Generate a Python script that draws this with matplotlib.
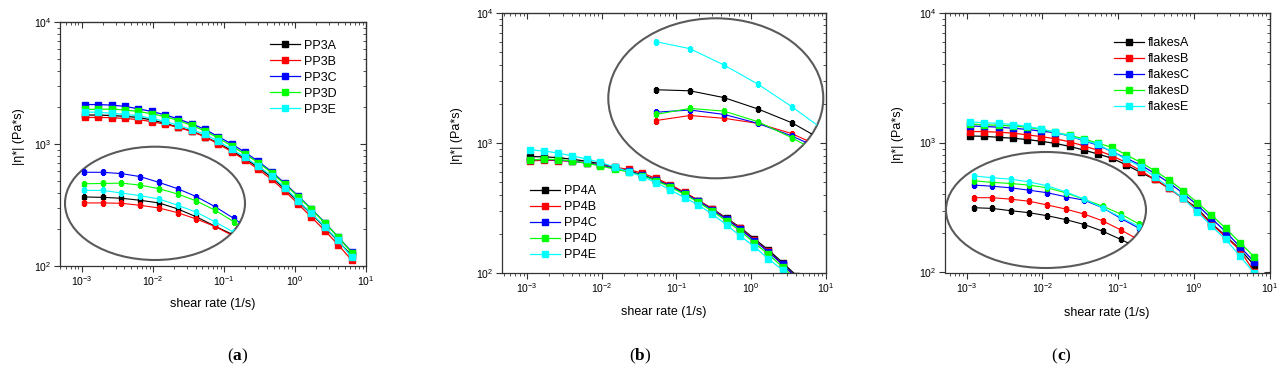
import matplotlib
matplotlib.use('Agg')
import matplotlib.pyplot as plt
from matplotlib.patches import Ellipse
from matplotlib.offsetbox import TextArea, HPacker, AnnotationBbox

plt.rcParams['font.family'] = ['Liberation Sans', 'DejaVu Sans']
plt.rcParams['mathtext.fontset'] = 'custom'
plt.rcParams['mathtext.rm'] = 'Liberation Sans'
plt.rcParams['mathtext.it'] = 'Liberation Sans:italic'
plt.rcParams['mathtext.bf'] = 'Liberation Sans:bold'

# shear rate (1/s), same sweep for every sample
shear_rate = [0.00111, 0.00171, 0.00264, 0.00406, 0.00627, 0.00964, 0.0149, 0.0229,
              0.0352, 0.0542, 0.0835, 0.129, 0.198, 0.305, 0.470, 0.723, 1.11, 1.71,
              2.64, 4.06, 6.27]

# (a) PP3
pp3_labels = ['PP3A', 'PP3B', 'PP3C', 'PP3D', 'PP3E']
pp3a = [1730, 1725, 1712, 1685, 1650, 1574, 1477, 1372, 1279, 1149, 1013, 882, 758, 644, 533, 428, 337, 267, 207, 160, 122]
pp3b = [1650, 1650, 1645, 1619, 1585, 1527, 1452, 1368, 1268, 1148, 1000, 865, 739, 620, 513, 412, 322, 251, 195, 149, 112]
pp3c = [2105, 2105, 2083, 2034, 1943, 1848, 1735, 1602, 1461, 1319, 1148, 1000, 855, 721, 593, 476, 375, 293, 227, 173, 131]
pp3d = [1921, 1926, 1931, 1901, 1848, 1772, 1676, 1558, 1423, 1278, 1120, 963, 828, 703, 582, 467, 370, 291, 225, 173, 129]
pp3e = [1823, 1823, 1785, 1748, 1703, 1620, 1533, 1420, 1309, 1200, 1052, 910, 778, 660, 547, 439, 343, 270, 210, 162, 118]

# (b) PP4
pp4_labels = ['PP4A', 'PP4B', 'PP4C', 'PP4D', 'PP4E']
pp4a = [786, 784, 771, 750, 725, 692, 651, 614, 568, 520, 470, 415, 362, 312, 265, 224, 184, 151, 121, 96, 76]
pp4b = [729, 738, 733, 724, 706, 680, 651, 628, 585, 535, 478, 418, 362, 311, 262, 221, 180, 147, 117, 92, 72]
pp4c = [744, 748, 740, 724, 702, 676, 640, 605, 565, 518, 466, 410, 357, 307, 259, 218, 178, 146, 117, 93, 73]
pp4d = [740, 751, 746, 727, 699, 668, 630, 600, 562, 512, 460, 403, 350, 300, 252, 211, 171, 140, 112, 89, 70]
pp4e = [884, 869, 835, 797, 754, 710, 655, 603, 551, 496, 436, 381, 334, 284, 235, 193, 160, 129, 106, 86, 68]

# (c) flakes
fl_labels = ['flakesA', 'flakesB', 'flakesC', 'flakesD', 'flakesE']
fla = [1124, 1118, 1098, 1081, 1055, 1024, 985, 935, 876, 817, 757, 672, 590, 521, 445, 372, 312, 239, 191, 151, 114]
flb = [1216, 1216, 1202, 1183, 1148, 1112, 1069, 1014, 944, 872, 789, 701, 608, 521, 445, 372, 305, 236, 188, 149, 101]
flc = [1342, 1331, 1314, 1290, 1264, 1225, 1192, 1124, 1033, 956, 851, 757, 672, 580, 491, 407, 331, 261, 206, 158, 121]
fld = [1389, 1371, 1360, 1342, 1314, 1264, 1199, 1139, 1069, 988, 919, 803, 705, 608, 515, 427, 345, 277, 219, 170, 132]
fle = [1444, 1422, 1407, 1377, 1334, 1274, 1202, 1124, 1042, 969, 851, 743, 653, 547, 452, 372, 294, 228, 180, 134, 99]

colors = ['#000000', '#ff0000', '#0000ff', '#00ff00', '#00ffff']

W, H = 1282, 376


def frac(l, t, r, b):
    return [l / W, 1 - b / H, (r - l) / W, (b - t) / H]


def panel(fig, rect, xlim, series, labels, leg_loc, leg_anchor,
          inset_rect, inset_xlim, inset_ylim, ylab_x, xlab_y):
    ax = fig.add_axes(frac(*rect))
    for y, lab, c in zip(series, labels, colors):
        ax.plot(shear_rate, y, '-s', color=c, lw=0.9, ms=4.2, mec=c, label=lab)
    ax.set_xscale('log')
    ax.set_yscale('log')
    ax.set_xlim(*xlim)
    ax.set_ylim(100, 1e4)
    for s in ax.spines.values():
        s.set_linewidth(0.9)
        s.set_color('#333333')
    ax.tick_params(which='both', direction='out', labelsize=7.5, color='#333333', pad=2)
    ax.tick_params(which='major', length=4)
    ax.tick_params(which='minor', length=2)
    top = ax.secondary_xaxis('top')
    top.tick_params(which='both', direction='in', labeltop=False, color='#333333')
    top.tick_params(which='major', length=4)
    top.tick_params(which='minor', length=2)
    right = ax.secondary_yaxis('right')
    right.tick_params(which='both', direction='in', labelright=False, color='#333333')
    right.tick_params(which='major', length=4)
    right.tick_params(which='minor', length=2)
    ax.set_xlabel('shear rate (1/s)', fontsize=9)
    ax.set_ylabel('|η*| (Pa*s)', fontsize=9)
    ax.xaxis.set_label_coords(0.5, xlab_y)
    ax.yaxis.set_label_coords(ylab_x, 0.53)
    ax.legend(loc=leg_loc, bbox_to_anchor=leg_anchor, frameon=False, fontsize=9,
              borderpad=0, borderaxespad=0, handlelength=2.4, handletextpad=0.35,
              labelspacing=0.32, numpoints=1)

    ins = fig.add_axes(frac(*inset_rect))
    ins.set_xscale('log')
    ins.set_yscale('log')
    ins.set_xlim(*inset_xlim)
    ins.set_ylim(*inset_ylim)
    ins.axis('off')
    ins.patch.set_visible(False)
    ell = Ellipse((0.5, 0.5), 1, 1, transform=ins.transAxes, fill=False,
                  ec='#5a5a5a', lw=1.5, clip_on=False)
    ins.add_patch(ell)
    for y, c in zip(series, colors):
        line, = ins.plot(shear_rate, y, '-s', color=c, lw=0.8, ms=3.0, mec=c)
        line.set_clip_path(ell)
    return ax


def tag(fig, x, y, letter):
    tp = dict(family='Liberation Serif', size=12.5)
    parts = [TextArea('(', textprops=tp),
             TextArea(letter, textprops=dict(tp, weight='bold')),
             TextArea(')', textprops=tp)]
    box = HPacker(children=parts, align='baseline', pad=0, sep=0)
    ab = AnnotationBbox(box, (x / W, 1 - y / H), xycoords='figure fraction',
                        frameon=False, box_alignment=(0.5, 0.5))
    fig.add_artist(ab)


fig = plt.figure(figsize=(W / 100, H / 100), dpi=100)

panel(fig, (60, 22, 366, 266), (4.95e-4, 10), [pp3a, pp3b, pp3c, pp3d, pp3e], pp3_labels,
      'upper left', (0.686, 0.927),
      (65, 146.7, 245, 260), (7.15e-4, 0.0459), (1048, 2580), -0.115, -0.131)
panel(fig, (501.7, 12.7, 825.7, 273.3), (4.59e-4, 10), [pp4a, pp4b, pp4c, pp4d, pp4e], pp4_labels,
      'lower left', (0.087, 0.047),
      (608.3, 18.3, 823.3, 178.3), (6.05e-4, 9.35e-3), (633, 936), -0.1185, -0.125)
panel(fig, (944.7, 12.7, 1269.5, 272.5), (5.13e-4, 10), [fla, flb, flc, fld, fle], fl_labels,
      'upper left', (0.52, 0.906),
      (946, 152, 1146, 268), (5.79e-4, 0.0636), (700, 1741), -0.126, -0.134)

tag(fig, 237, 356, 'a')
tag(fig, 640, 356, 'b')
tag(fig, 1061, 356, 'c')

fig.savefig('out.png', dpi=100)
